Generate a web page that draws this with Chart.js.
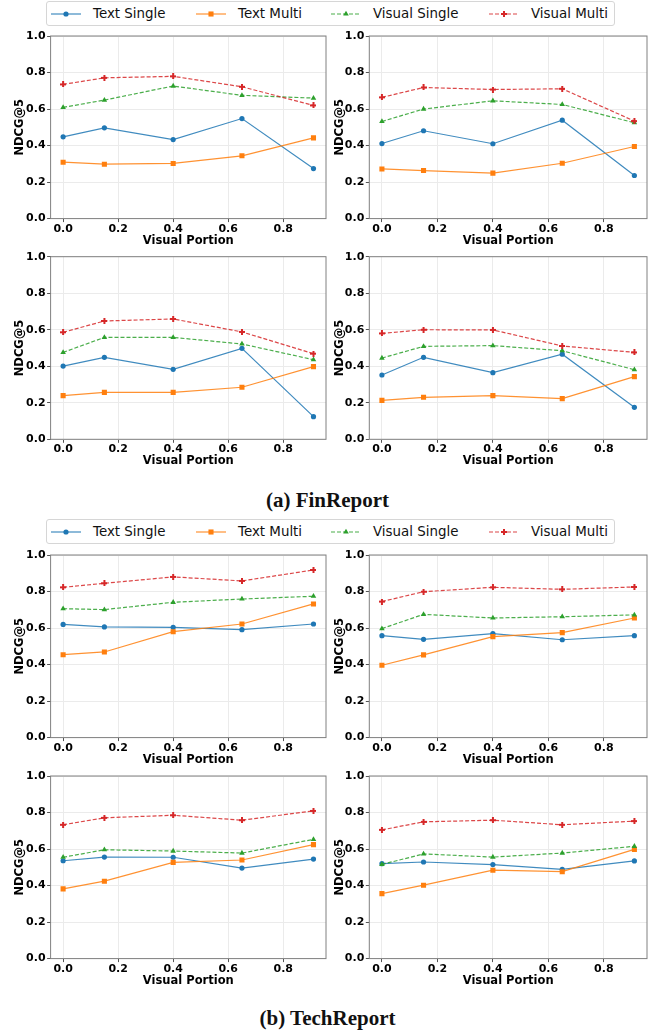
<!DOCTYPE html>
<html lang="en">
<head>
    <meta charset="UTF-8">
    <meta name="viewport" content="width=device-width, initial-scale=1.0">
    <title>NDCG@5 vs Visual Portion</title>
    <script src="https://cdn.jsdelivr.net/npm/chart.js"></script>
    <style>
        body { margin: 0; background: #fff; }
        #page { position: relative; width: 655px; height: 1034px; overflow: hidden; font-family: "DejaVu Sans", sans-serif; }
        .panel { position: absolute; }
        .legend { position: absolute; left: 46px; width: 567px; height: 23px; border: 1px solid #d6d6d6; border-radius: 3px; background: #fff; }
        .item { position: absolute; top: 0; height: 23px; display: flex; align-items: center; font-size: 13.4px; color: #111; white-space: nowrap; }
        .item canvas { margin-right: 12px; }
        .caption { position: absolute; left: 0; width: 655px; text-align: center; font-family: "Liberation Serif", serif; font-weight: bold; font-size: 21px; line-height: 24px; color: #111; }
    </style>
</head>
<body>
<div id="page">
    <div class="legend" id="legendA" style="top:1px;"></div>
    <div class="caption" style="top:488px;">(a) FinReport</div>
    <div class="legend" id="legendB" style="top:519px;"></div>
    <div class="caption" style="top:1006px;">(b) TechReport</div>
</div>
<script>
    const portions = [0, 0.15, 0.4, 0.65, 0.91];
    const xTickValues = [0, 0.2, 0.4, 0.6, 0.8];
    const yTickValues = [0, 0.2, 0.4, 0.6, 0.8, 1.0];
    const seriesNames = ['Text Single', 'Text Multi', 'Visual Single', 'Visual Multi'];

    // (a) FinReport
    const fin1TextSingle   = [0.448, 0.497, 0.433, 0.548, 0.274];
    const fin1TextMulti    = [0.309, 0.298, 0.302, 0.344, 0.442];
    const fin1VisualSingle = [0.609, 0.649, 0.726, 0.675, 0.660];
    const fin1VisualMulti  = [0.735, 0.771, 0.779, 0.722, 0.620];

    const fin2TextSingle   = [0.411, 0.481, 0.410, 0.539, 0.236];
    const fin2TextMulti    = [0.272, 0.263, 0.249, 0.303, 0.395];
    const fin2VisualSingle = [0.532, 0.600, 0.645, 0.625, 0.525];
    const fin2VisualMulti  = [0.664, 0.718, 0.707, 0.711, 0.534];

    const fin3TextSingle   = [0.401, 0.449, 0.383, 0.498, 0.124];
    const fin3TextMulti    = [0.239, 0.257, 0.257, 0.285, 0.398];
    const fin3VisualSingle = [0.476, 0.558, 0.558, 0.522, 0.436];
    const fin3VisualMulti  = [0.586, 0.648, 0.659, 0.588, 0.469];

    const fin4TextSingle   = [0.352, 0.449, 0.365, 0.466, 0.175];
    const fin4TextMulti    = [0.213, 0.230, 0.239, 0.223, 0.343];
    const fin4VisualSingle = [0.445, 0.509, 0.513, 0.485, 0.381];
    const fin4VisualMulti  = [0.580, 0.600, 0.599, 0.511, 0.476];

    // (b) TechReport
    const tech1TextSingle   = [0.620, 0.606, 0.604, 0.591, 0.622];
    const tech1TextMulti    = [0.454, 0.469, 0.580, 0.622, 0.732];
    const tech1VisualSingle = [0.706, 0.701, 0.741, 0.759, 0.774];
    const tech1VisualMulti  = [0.823, 0.845, 0.880, 0.858, 0.918];

    const tech2TextSingle   = [0.558, 0.538, 0.569, 0.536, 0.558];
    const tech2TextMulti    = [0.396, 0.453, 0.553, 0.575, 0.655];
    const tech2VisualSingle = [0.597, 0.675, 0.655, 0.662, 0.672];
    const tech2VisualMulti  = [0.745, 0.799, 0.823, 0.812, 0.825];

    const tech3TextSingle   = [0.536, 0.556, 0.555, 0.496, 0.545];
    const tech3TextMulti    = [0.382, 0.424, 0.527, 0.540, 0.624];
    const tech3VisualSingle = [0.555, 0.596, 0.589, 0.578, 0.653];
    const tech3VisualMulti  = [0.733, 0.771, 0.785, 0.758, 0.809];

    const tech4TextSingle   = [0.520, 0.529, 0.515, 0.489, 0.535];
    const tech4TextMulti    = [0.356, 0.402, 0.484, 0.476, 0.598];
    const tech4VisualSingle = [0.516, 0.573, 0.556, 0.578, 0.615];
    const tech4VisualMulti  = [0.705, 0.749, 0.758, 0.733, 0.753];

    const FONT = '"DejaVu Sans", sans-serif';

    function makePlus(color, size, arm) {
        const c = document.createElement('canvas');
        c.width = size; c.height = size;
        const g = c.getContext('2d');
        g.fillStyle = color;
        const o = (size - arm) / 2;
        g.fillRect(o, 0, arm, size);
        g.fillRect(0, o, size, arm);
        return c;
    }

    const styles = [
        { color: '#1f77b4', line: 'rgba(31,119,180,0.85)',  marker: 'circle',   radius: 2.6, dash: [] },
        { color: '#ff7f0e', line: 'rgba(255,127,14,0.85)',  marker: 'rect',     radius: 3.6, dash: [] },
        { color: '#2ca02c', line: 'rgba(44,160,44,0.85)',   marker: 'triangle', radius: 3.2, dash: [4, 2] },
        { color: '#d62728', line: 'rgba(214,39,40,0.85)',   marker: makePlus('#d62728', 6, 2), radius: 3, dash: [4, 2] }
    ];

    const framePlugin = {
        id: 'frame',
        afterDatasetsDraw(chart) {
            const { ctx, chartArea: a } = chart;
            ctx.save();
            ctx.strokeStyle = '#808080';
            ctx.lineWidth = 1;
            ctx.strokeRect(a.left, a.top, a.right - a.left, a.bottom - a.top);
            ctx.restore();
        }
    };

    const cols = [
        { left: 13,  width: 317, yWidth: 37.6, plotWidth: 277.5 },
        { left: 333, width: 322, yWidth: 36.3, plotWidth: 277.7 }
    ];
    const rowTops = [36, 256.7, 555, 776];
    const plotHeight = 182.6, xAxisHeight = 29, canvasHeight = 222;

    const panels = [
        { row: 0, col: 0, series: [fin1TextSingle, fin1TextMulti, fin1VisualSingle, fin1VisualMulti] },
        { row: 0, col: 1, series: [fin2TextSingle, fin2TextMulti, fin2VisualSingle, fin2VisualMulti] },
        { row: 1, col: 0, series: [fin3TextSingle, fin3TextMulti, fin3VisualSingle, fin3VisualMulti] },
        { row: 1, col: 1, series: [fin4TextSingle, fin4TextMulti, fin4VisualSingle, fin4VisualMulti] },
        { row: 2, col: 0, series: [tech1TextSingle, tech1TextMulti, tech1VisualSingle, tech1VisualMulti] },
        { row: 2, col: 1, series: [tech2TextSingle, tech2TextMulti, tech2VisualSingle, tech2VisualMulti] },
        { row: 3, col: 0, series: [tech3TextSingle, tech3TextMulti, tech3VisualSingle, tech3VisualMulti] },
        { row: 3, col: 1, series: [tech4TextSingle, tech4TextMulti, tech4VisualSingle, tech4VisualMulti] }
    ];

    const page = document.getElementById('page');

    panels.forEach(p => {
        const col = cols[p.col];
        const top = rowTops[p.row];
        const canvasTop = Math.floor(top) - 10;
        const padTop = top - canvasTop;
        const padBottom = canvasHeight - padTop - plotHeight - xAxisHeight;
        const padRight = col.width - col.yWidth - col.plotWidth;

        const canvas = document.createElement('canvas');
        canvas.className = 'panel';
        canvas.width = col.width;
        canvas.height = canvasHeight;
        canvas.style.left = col.left + 'px';
        canvas.style.top = canvasTop + 'px';
        page.appendChild(canvas);

        new Chart(canvas, {
            type: 'line',
            data: {
                datasets: p.series.map((vals, i) => ({
                    label: seriesNames[i],
                    data: vals.map((v, j) => ({ x: portions[j], y: v })),
                    borderColor: styles[i].line,
                    backgroundColor: styles[i].color,
                    pointBackgroundColor: styles[i].color,
                    pointBorderWidth: 0,
                    pointStyle: styles[i].marker,
                    pointRadius: styles[i].radius,
                    borderWidth: 1.2,
                    borderDash: styles[i].dash,
                    tension: 0,
                    order: 4 - i
                }))
            },
            options: {
                responsive: false,
                animation: false,
                events: [],
                layout: { padding: { top: padTop, right: padRight, bottom: padBottom, left: 0 } },
                plugins: { legend: { display: false }, tooltip: { enabled: false } },
                scales: {
                    x: {
                        type: 'linear',
                        min: -0.0455,
                        max: 0.9555,
                        afterBuildTicks: s => { s.ticks = xTickValues.map(v => ({ value: v })); },
                        afterFit: s => { s.height = xAxisHeight; },
                        ticks: {
                            autoSkip: false, maxRotation: 0, padding: 0, color: '#000',
                            font: { family: FONT, size: 11, weight: 'bold' },
                            callback: v => Number(v).toFixed(1)
                        },
                        grid: { color: '#ebebeb', tickLength: 3.5, tickColor: '#555' },
                        border: { display: false },
                        title: { display: true, text: 'Visual Portion', color: '#000', padding: 0,
                                 font: { family: FONT, size: 11.5, weight: 'bold' } }
                    },
                    y: {
                        min: 0,
                        max: 1,
                        afterBuildTicks: s => { s.ticks = yTickValues.map(v => ({ value: v })); },
                        afterFit: s => { s.width = col.yWidth; },
                        ticks: {
                            padding: 1.5, color: '#000',
                            font: { family: FONT, size: 11, weight: 'bold' },
                            callback: v => Number(v).toFixed(1)
                        },
                        grid: { color: '#ebebeb', tickLength: 3.5, tickColor: '#555' },
                        border: { display: false },
                        title: { display: true, text: 'NDCG@5', color: '#000', padding: 0,
                                 font: { family: FONT, size: 11.5, weight: 'bold' } }
                    }
                }
            },
            plugins: [framePlugin]
        });
    });

    // legend rows (one per figure)
    function drawGlyph(c, st) {
        const g = c.getContext('2d');
        const cy = c.height / 2;
        g.strokeStyle = st.line;
        g.lineWidth = 1.2;
        g.setLineDash(st.dash);
        g.beginPath(); g.moveTo(0, cy); g.lineTo(c.width, cy); g.stroke();
        g.setLineDash([]);
        g.fillStyle = st.color;
        const cx = c.width / 2;
        if (st.marker === 'circle') {
            g.beginPath(); g.arc(cx, cy, st.radius, 0, Math.PI * 2); g.fill();
        } else if (st.marker === 'rect') {
            const s = st.radius * Math.SQRT1_2;
            g.fillRect(cx - s, cy - s, 2 * s, 2 * s);
        } else if (st.marker === 'triangle') {
            const r = st.radius;
            g.beginPath();
            g.moveTo(cx, cy - r);
            g.lineTo(cx + r * Math.sin(2 * Math.PI / 3), cy - r * Math.cos(2 * Math.PI / 3));
            g.lineTo(cx + r * Math.sin(4 * Math.PI / 3), cy - r * Math.cos(4 * Math.PI / 3));
            g.closePath(); g.fill();
        } else {
            g.drawImage(st.marker, cx - st.marker.width / 2, cy - st.marker.height / 2);
        }
    }

    const legendOffsets = [4, 149, 284, 442];
    ['legendA', 'legendB'].forEach(id => {
        const box = document.getElementById(id);
        seriesNames.forEach((name, i) => {
            const item = document.createElement('div');
            item.className = 'item';
            item.style.left = legendOffsets[i] + 'px';
            const c = document.createElement('canvas');
            c.width = 30; c.height = 10;
            drawGlyph(c, styles[i]);
            const span = document.createElement('span');
            span.textContent = name;
            item.appendChild(c);
            item.appendChild(span);
            box.appendChild(item);
        });
    });
</script>
</body>
</html>
